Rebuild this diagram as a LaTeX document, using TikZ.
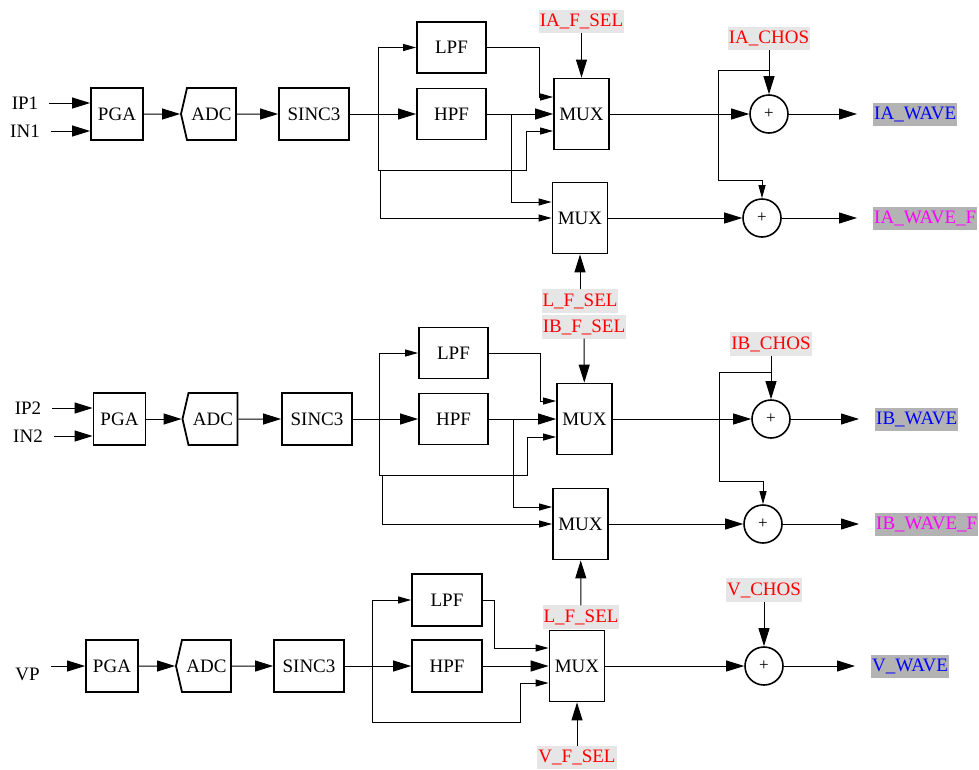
\documentclass[tikz,border=0pt]{standalone}
\usepackage{fontspec}
\setmainfont{Liberation Serif}
\usetikzlibrary{arrows.meta, positioning, shapes.symbols}
\definecolor{selbg}{HTML}{E6E6E6}
\definecolor{wavebg}{HTML}{B3B3B3}
\definecolor{wavemag}{HTML}{FF00FF}
\tikzset{
	blk/.style={draw, line width=1.8pt, minimum height=52pt, inner sep=0pt,
		font=\fontsize{19}{22}\selectfont},
	adcblk/.style={blk, signal, signal to=west, signal pointer angle=154, minimum width=55pt},
	muxblk/.style={blk, minimum width=55pt, minimum height=71pt},
	sumc/.style={circle, draw, line width=1.6pt, minimum size=38pt, inner sep=0pt,
		font=\fontsize{17}{17}\selectfont},
	port/.style={inner xsep=11pt, inner ysep=0pt, font=\fontsize{19}{22}\selectfont},
	sel/.style={fill=selbg, text=red, inner xsep=1pt, inner ysep=4pt,
		font=\fontsize{19}{22}\selectfont},
	wave/.style={fill=wavebg, text=blue, inner xsep=1pt, inner ysep=4pt, anchor=west,
		font=\fontsize{19}{22}\selectfont},
	wavef/.style={wave, text=wavemag},
	marr/.style={-{Triangle[length=18pt,width=11pt]}, line width=1pt},
	sarr/.style={-{Triangle[length=13pt,width=7pt]}, line width=1pt},
	oarr/.style={marr, shorten >=16pt}
}
\begin{document}
\begin{tikzpicture}[x=1pt, y=-1pt]
	\useasboundingbox (0,0) rectangle (979,769);
	% channel A
	\node[port] (ipA) at (25,103) {IP1};
	\node[port] (inA) at (25,131) {IN1};
	\node[blk, minimum width=52pt] (pgaA) at (117,114) {PGA};
	\node[adcblk] (adcA) at (211.5,114) {ADC};
	\node[blk, minimum width=70pt] (sincA) at (314,114) {SINC3};
	\node[blk, minimum width=69pt, minimum height=51pt] (lpfA) at (451.5,47.5) {LPF};
	\node[blk, minimum width=69pt, minimum height=51pt] (hpfA) at (451.5,114) {HPF};
	\node[muxblk] (muxA) at (581.5,114) {MUX};
	\node[muxblk] (mux2A) at (580,218) {MUX};
	\node[sel] (selA) at (581.5,21.5) {IA\_F\_SEL};
	\node[sel] (lselA) at (580,301) {L\_F\_SEL};
	\node[sumc] (sumA) at (769,114) {+};
	\node[sumc] (sum2A) at (762,218) {+};
	\node[sel] (chosA) at (769,38.5) {IA\_CHOS};
	\node[wave] (waveA) at (873,114) {IA\_WAVE};
	\node[wavef] (wavefA) at (873,218) {IA\_WAVE\_F};
	\coordinate (jA) at (378,114);
	\coordinate (kA) at (380,170);
	\coordinate (hA) at (511,114);
	\coordinate (cA) at (769,70);
	\draw[marr] (ipA) -- (ipA -| pgaA.west);
	\draw[marr] (inA) -- (inA -| pgaA.west);
	\draw[marr] (pgaA) -- (adcA);
	\draw[marr] (adcA) -- (sincA);
	\draw[marr] (sincA) -- (hpfA);
	\draw[marr] (hpfA) -- (muxA);
	\draw[sarr] (jA) |- (lpfA);
	\draw[sarr] (jA) |- (526,170) |- ([yshift=-17pt]muxA.west);
	\draw[sarr] (kA) |- (mux2A);
	\draw[sarr] (lpfA) -| (539,97) -- ([yshift=17pt]muxA.west);
	\draw[sarr] (hA) |- ([yshift=16pt]mux2A.west);
	\draw[marr] (selA) -- (muxA);
	\draw[marr] (lselA) -- (mux2A);
	\draw[marr] (muxA) -- (sumA);
	\draw[marr] (mux2A) -- (sum2A);
	\draw[marr] (chosA) -- (sumA);
	\draw[sarr] (cA) -| (718,180) -| (sum2A);
	\draw[oarr] (sumA) -- (waveA);
	\draw[oarr] (sum2A) -- (wavefA);
	% channel B
	\node[port] (ipB) at (28,408) {IP2};
	\node[port] (inB) at (28,436) {IN2};
	\node[blk, minimum width=52pt] (pgaB) at (119.5,419) {PGA};
	\node[adcblk] (adcB) at (213,419) {ADC};
	\node[blk, minimum width=70pt] (sincB) at (317,419) {SINC3};
	\node[blk, minimum width=69pt, minimum height=51pt] (lpfB) at (453.5,353) {LPF};
	\node[blk, minimum width=69pt, minimum height=51pt] (hpfB) at (453.5,419) {HPF};
	\node[muxblk] (muxB) at (584.5,419) {MUX};
	\node[muxblk] (mux2B) at (580.5,524) {MUX};
	\node[sel] (selB) at (584,327) {IB\_F\_SEL};
	\node[sel] (lselB) at (581,617) {L\_F\_SEL};
	\node[sumc] (sumB) at (771,419) {+};
	\node[sumc] (sum2B) at (763,524) {+};
	\node[sel] (chosB) at (771,344) {IB\_CHOS};
	\node[wave] (waveB) at (875,419) {IB\_WAVE};
	\node[wavef] (wavefB) at (875,524) {IB\_WAVE\_F};
	\coordinate (jB) at (379,419);
	\coordinate (kB) at (382,475);
	\coordinate (hB) at (513,419);
	\coordinate (cB) at (771,372);
	\draw[marr] (ipB) -- (ipB -| pgaB.west);
	\draw[marr] (inB) -- (inB -| pgaB.west);
	\draw[marr] (pgaB) -- (adcB);
	\draw[marr] (adcB) -- (sincB);
	\draw[marr] (sincB) -- (hpfB);
	\draw[marr] (hpfB) -- (muxB);
	\draw[sarr] (jB) |- (lpfB);
	\draw[sarr] (jB) |- (527,475) |- ([yshift=-18pt]muxB.west);
	\draw[sarr] (kB) |- (mux2B);
	\draw[sarr] (lpfB) -| (540,401) -- ([yshift=18pt]muxB.west);
	\draw[sarr] (hB) |- ([yshift=17pt]mux2B.west);
	\draw[marr] (selB) -- (muxB);
	\draw[marr] (lselB) -- (mux2B);
	\draw[marr] (muxB) -- (sumB);
	\draw[marr] (mux2B) -- (sum2B);
	\draw[marr] (chosB) -- (sumB);
	\draw[sarr] (cB) -| (719,481) -| (sum2B);
	\draw[oarr] (sumB) -- (waveB);
	\draw[oarr] (sum2B) -- (wavefB);
	% channel V
	\node[port] (vpC) at (27.5,674) {VP};
	\node[blk, minimum width=52pt] (pgaC) at (112,666) {PGA};
	\node[adcblk] (adcC) at (206.5,666) {ADC};
	\node[blk, minimum width=70pt] (sincC) at (309,666) {SINC3};
	\node[blk, minimum width=70pt] (lpfC) at (447,600) {LPF};
	\node[blk, minimum width=70pt] (hpfC) at (447,666) {HPF};
	\node[muxblk] (muxC) at (577,666) {MUX};
	\node[sel] (fselC) at (577,757.5) {V\_F\_SEL};
	\node[sumc] (sumC) at (764,666) {+};
	\node[sel] (chosC) at (764,590) {V\_CHOS};
	\node[wave] (waveC) at (871,666) {V\_WAVE};
	\coordinate (jC) at (372,666);
	\draw[marr] (vpC.east |- pgaC) -- (pgaC);
	\draw[marr] (pgaC) -- (adcC);
	\draw[marr] (adcC) -- (sincC);
	\draw[marr] (sincC) -- (hpfC);
	\draw[marr] (hpfC) -- (muxC);
	\draw[sarr] (jC) |- (lpfC);
	\draw[sarr] (jC) |- (520,722) |- ([yshift=-17pt]muxC.west);
	\draw[sarr] (lpfC) -| (494,648) -- ([yshift=18pt]muxC.west);
	\draw[marr] (fselC) -- (muxC);
	\draw[marr] (muxC) -- (sumC);
	\draw[marr] (chosC) -- (sumC);
	\draw[oarr] (sumC) -- (waveC);
\end{tikzpicture}
\end{document}
